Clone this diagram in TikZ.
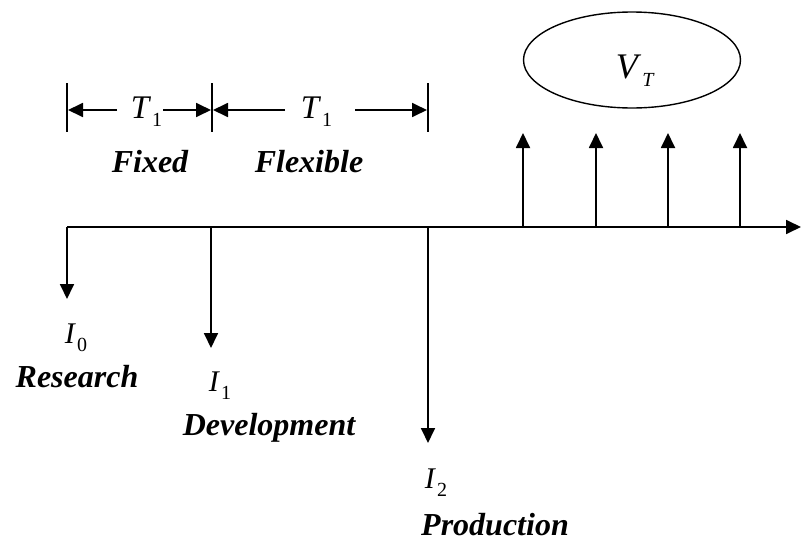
\documentclass[tikz,border=0pt]{standalone}
\usepackage{fontspec}
\setmainfont{Liberation Serif}
\usetikzlibrary{arrows.meta,shapes.geometric}
\newcommand{\symb}[4]{{\fontsize{#3}{#3}\selectfont\textit{#1}}\kern1pt\raisebox{-8pt}{\fontsize{#4}{#4}\selectfont #2}}
\begin{document}
\begin{tikzpicture}[x=1pt,y=-1pt,line width=1.8pt,
  arr/.style={-{Triangle[length=15pt,width=14pt]}},
  lbl/.style={font=\fontsize{32}{36}\selectfont\bfseries\itshape,inner sep=0pt,anchor=base},
  sym/.style={inner sep=0pt,anchor=base west}]
\useasboundingbox (0,0) rectangle (801,541);
% axis
\coordinate (o0) at (67,227);
\coordinate (o1) at (211,227);
\coordinate (o2) at (428,227);
\coordinate (axend) at (801,227);
\draw[arr] (o0) -- (axend);
% investments (downward)
\coordinate (d0) at (67,299);
\coordinate (d1) at (211,348);
\coordinate (d2) at (428,443);
\draw[arr] (o0) -- (d0);
\draw[arr] (o1) -- (d1);
\draw[arr] (o2) -- (d2);
% cash flows (upward)
\foreach \i/\x in {1/523,2/596,3/668,4/740}{
  \coordinate (u\i) at (\x,227);
  \coordinate (ut\i) at (\x,133);
  \draw[arr] (u\i) -- (ut\i);
}
% value ellipse
\node[draw,ellipse,line width=1.4pt,minimum width=217pt,minimum height=96pt] (vt) at (632,60) {};
\node[sym] (vtl) at (615,78) {\symb{V}{\textit{T}}{36}{20}};
% dimension bars
\coordinate (b0t) at (67,83);  \coordinate (b0b) at (67,132);
\coordinate (b1t) at (212,83); \coordinate (b1b) at (212,132);
\coordinate (b2t) at (428,83); \coordinate (b2b) at (428,132);
\draw (b0t) -- (b0b);
\draw (b1t) -- (b1b);
\draw (b2t) -- (b2b);
% dimension arrows
\coordinate (a1s) at (117,110); \coordinate (a1e) at (68,110);
\coordinate (a2s) at (163,110); \coordinate (a2e) at (211,110);
\coordinate (a3s) at (285,110); \coordinate (a3e) at (213,110);
\coordinate (a4s) at (355,110); \coordinate (a4e) at (427,110);
\draw[arr] (a1s) -- (a1e);
\draw[arr] (a2s) -- (a2e);
\draw[arr] (a3s) -- (a3e);
\draw[arr] (a4s) -- (a4e);
\node[sym] (t1a) at (130,118) {\symb{T}{1}{33}{20}};
\node[sym] (t1b) at (300,118) {\symb{T}{1}{33}{20}};
% phase labels
\node[lbl] (fixed) at (150,172) {Fixed};
\node[lbl] (flex) at (309,172) {Flexible};
% investment labels
\node[sym] (i0) at (64,343) {\symb{I}{0}{30}{20}};
\node[lbl] (res) at (77,387) {Research};
\node[sym] (i1) at (208,391) {\symb{I}{1}{30}{20}};
\node[lbl] (dev) at (269,435) {Development};
\node[sym] (i2) at (424,488) {\symb{I}{2}{30}{20}};
\node[lbl] (prod) at (495,535) {Production};
\end{tikzpicture}
\end{document}
